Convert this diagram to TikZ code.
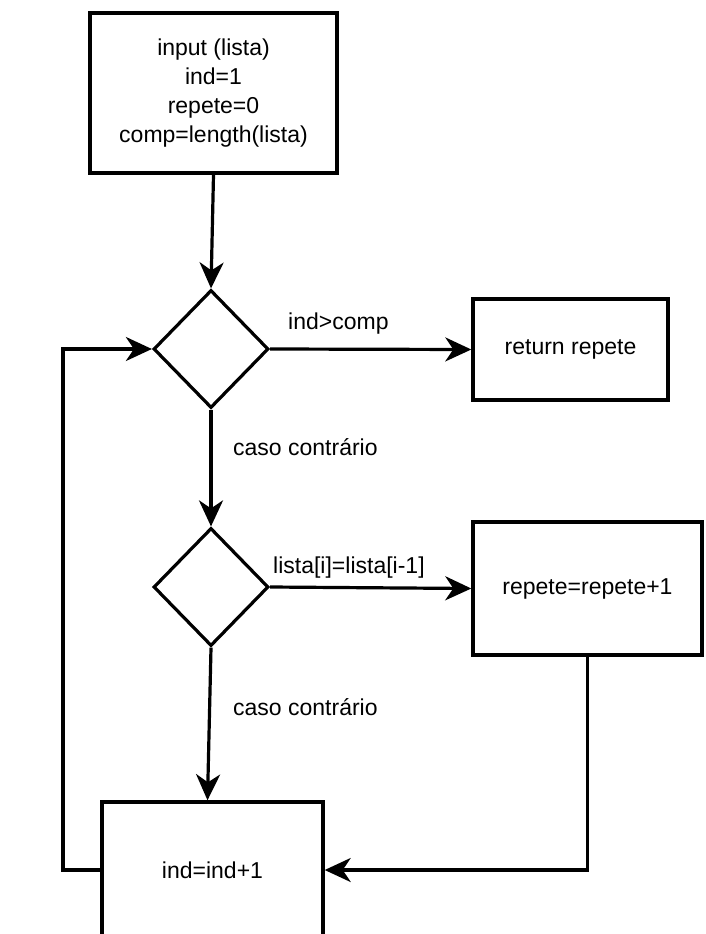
\documentclass[tikz,border=0pt]{standalone}
\usepackage{fontspec}
\setmainfont{Liberation Sans}
\usetikzlibrary{shapes.geometric,arrows.meta}
\begin{document}
\begin{tikzpicture}[x=1pt,y=-1pt,
  every node/.style={font=\fontsize{23}{29}\selectfont},
  box/.style={draw=black,line width=3.4pt,fill=white,rectangle,inner sep=0pt,align=center},
  dia/.style={draw=black,line width=3.2pt,diamond,inner sep=0pt,minimum width=115pt,minimum height=118pt},
  lbl/.style={inner sep=0pt,anchor=base west},
  conn/.style={line width=3.2pt,-{Stealth[length=26pt,width=24pt,inset=8pt]}},
  plain/.style={line width=3.2pt}]
\useasboundingbox (0,0) rectangle (705,934);
\node[box,minimum width=247pt,minimum height=160pt] (start) at (213.5,93)
  {input (lista)\\ind=1\\repete=0\\comp=length(lista)};
\node[dia] (d1) at (211,349) {};
\node[box,minimum width=195pt,minimum height=101pt] (ret) at (570.5,349.5) {return repete};
\node[dia] (d2) at (211,587) {};
\node[box,minimum width=229pt,minimum height=133pt] (rep) at (587.5,588.5) {repete=repete+1};
\node[box,minimum width=221pt,minimum height=136pt] (inc) at (212.5,870) {ind=ind+1};
\coordinate (loop) at (63,870);
\coordinate (incin) at ([xshift=-5pt]inc.north);
\draw[conn] (start.south) -- (d1.north);
\draw[conn] (d1.east) -- (ret.west);
\draw[conn] (d1.south) -- (d2.north);
\draw[conn] (d2.east) -- (rep.west);
\draw[conn] (d2.south) -- (incin);
\draw[conn] (rep.south) -- (rep.south |- inc.east) -- (inc.east);
\draw[conn] (inc.west) -- (loop) |- (d1.west);
\node[lbl] (l1) at (288,329) {ind>comp};
\node[lbl] (l2) at (233,455) {caso contrário};
\node[lbl] (l3) at (273,573) {lista[i]=lista[i-1]};
\node[lbl] (l4) at (233,715) {caso contrário};
\end{tikzpicture}
\end{document}
